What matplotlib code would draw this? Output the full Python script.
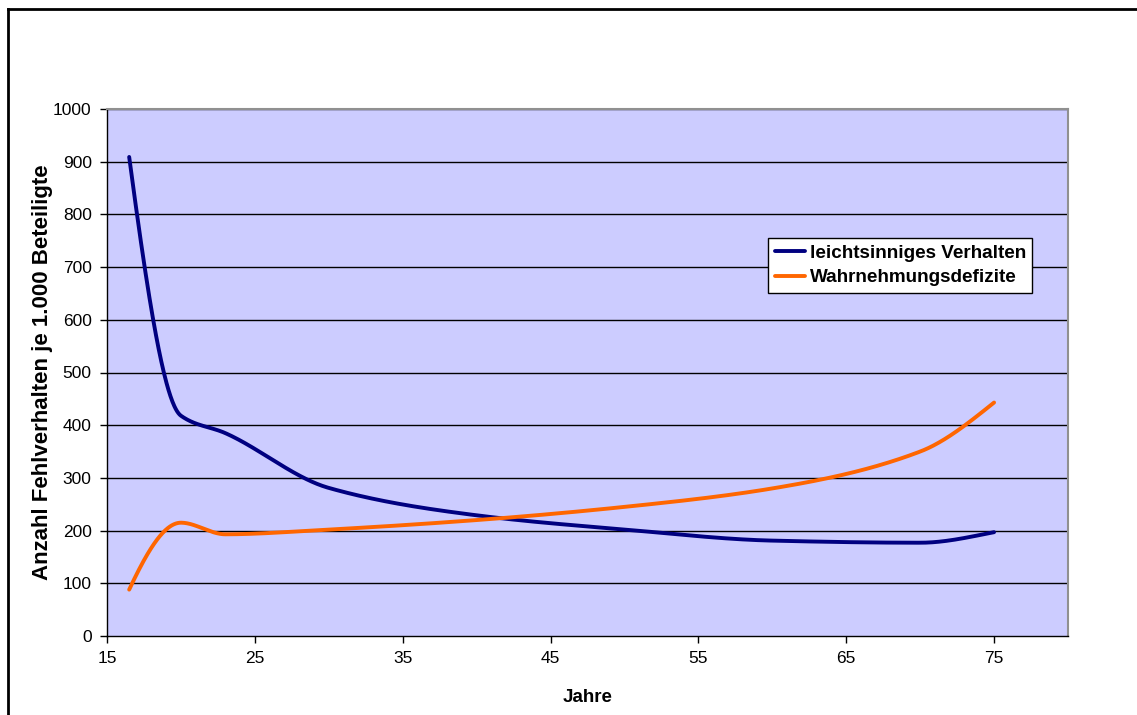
import numpy as np
import matplotlib
matplotlib.use("Agg")
import matplotlib.pyplot as plt
from matplotlib.lines import Line2D

plt.rcParams['font.family'] = ['Liberation Sans', 'DejaVu Sans']

# Data
alter = [16.5, 20, 23, 30, 40, 50, 60, 70, 75]
leichtsinnig = [909, 418, 385, 281, 229, 202, 181, 177, 197]
wahrnehmung = [88, 215, 193, 202, 220, 245, 280, 350, 443]
series_names = ["leichtsinniges Verhalten", "Wahrnehmungsdefizite"]
x_ticks = [15, 25, 35, 45, 55, 65, 75]
y_ticks = list(range(0, 1001, 100))


def smooth(xs, ys, n=80):
    """Smoothed line through the points (monotone cubic Hermite)."""
    x = np.asarray(xs, float)
    y = np.asarray(ys, float)
    h = np.diff(x)
    dl = np.diff(y) / h
    m = np.zeros_like(x)
    for k in range(1, len(x) - 1):
        if dl[k - 1] * dl[k] <= 0:
            m[k] = 0.0
        else:
            w1 = 2 * h[k] + h[k - 1]
            w2 = h[k] + 2 * h[k - 1]
            m[k] = (w1 + w2) / (w1 / dl[k - 1] + w2 / dl[k])

    def edge(h0, h1, d0, d1):
        s = ((2 * h0 + h1) * d0 - h0 * d1) / (h0 + h1)
        if np.sign(s) != np.sign(d0):
            s = 0.0
        elif np.sign(d0) != np.sign(d1) and abs(s) > abs(3 * d0):
            s = 3 * d0
        return s

    m[0] = edge(h[0], h[1], dl[0], dl[1])
    m[-1] = edge(h[-1], h[-2], dl[-1], dl[-2])
    X, Y = [], []
    for k in range(len(x) - 1):
        s = np.linspace(0, 1, n)
        if k > 0:
            s = s[1:]
        h00 = 2 * s**3 - 3 * s**2 + 1
        h10 = s**3 - 2 * s**2 + s
        h01 = -2 * s**3 + 3 * s**2
        h11 = s**3 - s**2
        X.append(x[k] + s * h[k])
        Y.append(h00 * y[k] + h10 * h[k] * m[k] + h01 * y[k + 1] + h11 * h[k] * m[k + 1])
    return np.concatenate(X), np.concatenate(Y)


fig = plt.figure(figsize=(11.37, 7.15), dpi=100)
ax = fig.add_axes([107 / 1137, 1 - 636 / 715, (1068 - 107) / 1137, (636 - 109) / 715])
ax.set_facecolor('#CCCCFF')

for yt in y_ticks[1:]:
    ax.axhline(yt, color='black', lw=1.0, zorder=1)

bx, by = smooth(alter, leichtsinnig)
ox, oy = smooth(alter, wahrnehmung)
ax.plot(bx, by, color='#000080', lw=2.8, solid_capstyle='round', label=series_names[0], zorder=3)
ax.plot(ox, oy, color='#FF6600', lw=2.8, solid_capstyle='round', label=series_names[1], zorder=3)

ax.set_xlim(15, 80)
ax.set_ylim(0, 1000)
ax.set_xticks(x_ticks)
ax.set_yticks(y_ticks)
ax.tick_params(axis='both', direction='out', length=5, width=1, labelsize=12.5, colors='black')
ax.tick_params(axis='x', pad=6)
ax.tick_params(axis='y', pad=6)

for s in ['left', 'bottom']:
    ax.spines[s].set_color('black')
    ax.spines[s].set_linewidth(1.0)
for s in ['top', 'right']:
    ax.spines[s].set_color('#909090')
    ax.spines[s].set_linewidth(1.5)

ax.set_xlabel('Jahre', fontsize=13.5, fontweight='bold', labelpad=16)
ax.set_ylabel('Anzahl Fehlverhalten je 1.000 Beteiligte', fontsize=16, fontweight='bold', labelpad=0)

leg = ax.legend(loc='upper left', bbox_to_anchor=((768 - 107) / 961, 1 - (238 - 109) / 527),
                prop={'weight': 'bold', 'size': 13.6}, frameon=True, fancybox=False,
                handlelength=1.6, handletextpad=0.25, borderpad=0.35, labelspacing=0.38,
                borderaxespad=0)
leg.get_frame().set_edgecolor('black')
leg.get_frame().set_linewidth(1.0)
leg.get_frame().set_facecolor('white')
leg.get_frame().set_alpha(1)

# outer frame lines (chart border)
fig.add_artist(Line2D([8 / 1137, 8 / 1137], [0, 1 - 9 / 715], transform=fig.transFigure, color='black', lw=2))
fig.add_artist(Line2D([8 / 1137, 1], [1 - 9 / 715, 1 - 9 / 715], transform=fig.transFigure, color='black', lw=2))

fig.savefig('out.png', dpi=100)
